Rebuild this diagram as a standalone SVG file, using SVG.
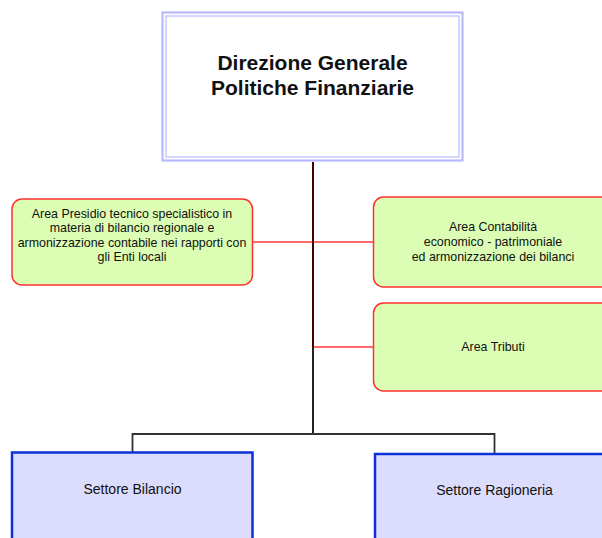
<svg xmlns="http://www.w3.org/2000/svg" width="602" height="538" viewBox="0 0 602 538">
<style>
.area{fill:#dcfeb4;stroke:#ff3030;stroke-width:1.5}
.sett{fill:#dcdcfc;stroke:#0a32d8;stroke-width:2.5}
.t{font-family:"Liberation Sans",Arial,sans-serif;fill:#111;text-anchor:middle}
.s11{font-size:12.4px}
.s14{font-size:14px}
.red{stroke:#ff3a3a;stroke-width:1.5;fill:none}
.blk{stroke:#333;stroke-width:1.8;fill:none}
</style>
<rect width="602" height="538" fill="#fff"/>
<g id="connectors">
<line class="red" x1="253" y1="242" x2="373" y2="242"/>
<line class="red" x1="313" y1="347" x2="373" y2="347"/>
<line x1="313" y1="162" x2="313" y2="347" stroke="#4a0000" stroke-width="2"/>
<line x1="313" y1="347" x2="313" y2="434" stroke="#222" stroke-width="2"/>
<polyline class="blk" points="132.5,452 132.5,434 494.5,434 494.5,453"/>
</g>
<g id="direzione">
<rect x="162.5" y="12.5" width="300" height="148" fill="#fff" stroke="#b8b8fc" stroke-width="2.2"/>
<rect x="166" y="16" width="293" height="141" fill="#fff" stroke="#c4c4fc" stroke-width="1.4"/>
<text class="t" x="312.5" y="70" font-size="21" font-weight="bold">Direzione Generale</text>
<text class="t" x="312.5" y="95" font-size="21" font-weight="bold">Politiche Finanziarie</text>
</g>
<g id="area-presidio">
<rect class="area" x="12" y="199" width="240.5" height="86" rx="10"/>
<text class="t s11" x="132" y="217.5">Area Presidio tecnico specialistico in</text>
<text class="t s11" x="132" y="231.5">materia di bilancio regionale e</text>
<text class="t s11" x="132" y="247">armonizzazione contabile nei rapporti con</text>
<text class="t s11" x="132" y="261">gli Enti locali</text>
</g>
<g id="area-contabilita">
<rect class="area" x="373.5" y="197" width="240" height="90" rx="10"/>
<text class="t s11" x="493" y="231">Area Contabilità</text>
<text class="t s11" x="493" y="246">economico - patrimoniale</text>
<text class="t s11" x="493" y="261">ed armonizzazione dei bilanci</text>
</g>
<g id="area-tributi">
<rect class="area" x="373.5" y="303" width="240" height="88" rx="10"/>
<text class="t s11" x="493" y="351">Area Tributi</text>
</g>
<g id="settore-bilancio">
<rect class="sett" x="12" y="452.5" width="240.5" height="100"/>
<text class="t s14" x="132.5" y="494">Settore Bilancio</text>
</g>
<g id="settore-ragioneria">
<rect class="sett" x="375" y="454" width="240" height="100"/>
<text class="t s14" x="494.5" y="495">Settore Ragioneria</text>
</g>
</svg>
